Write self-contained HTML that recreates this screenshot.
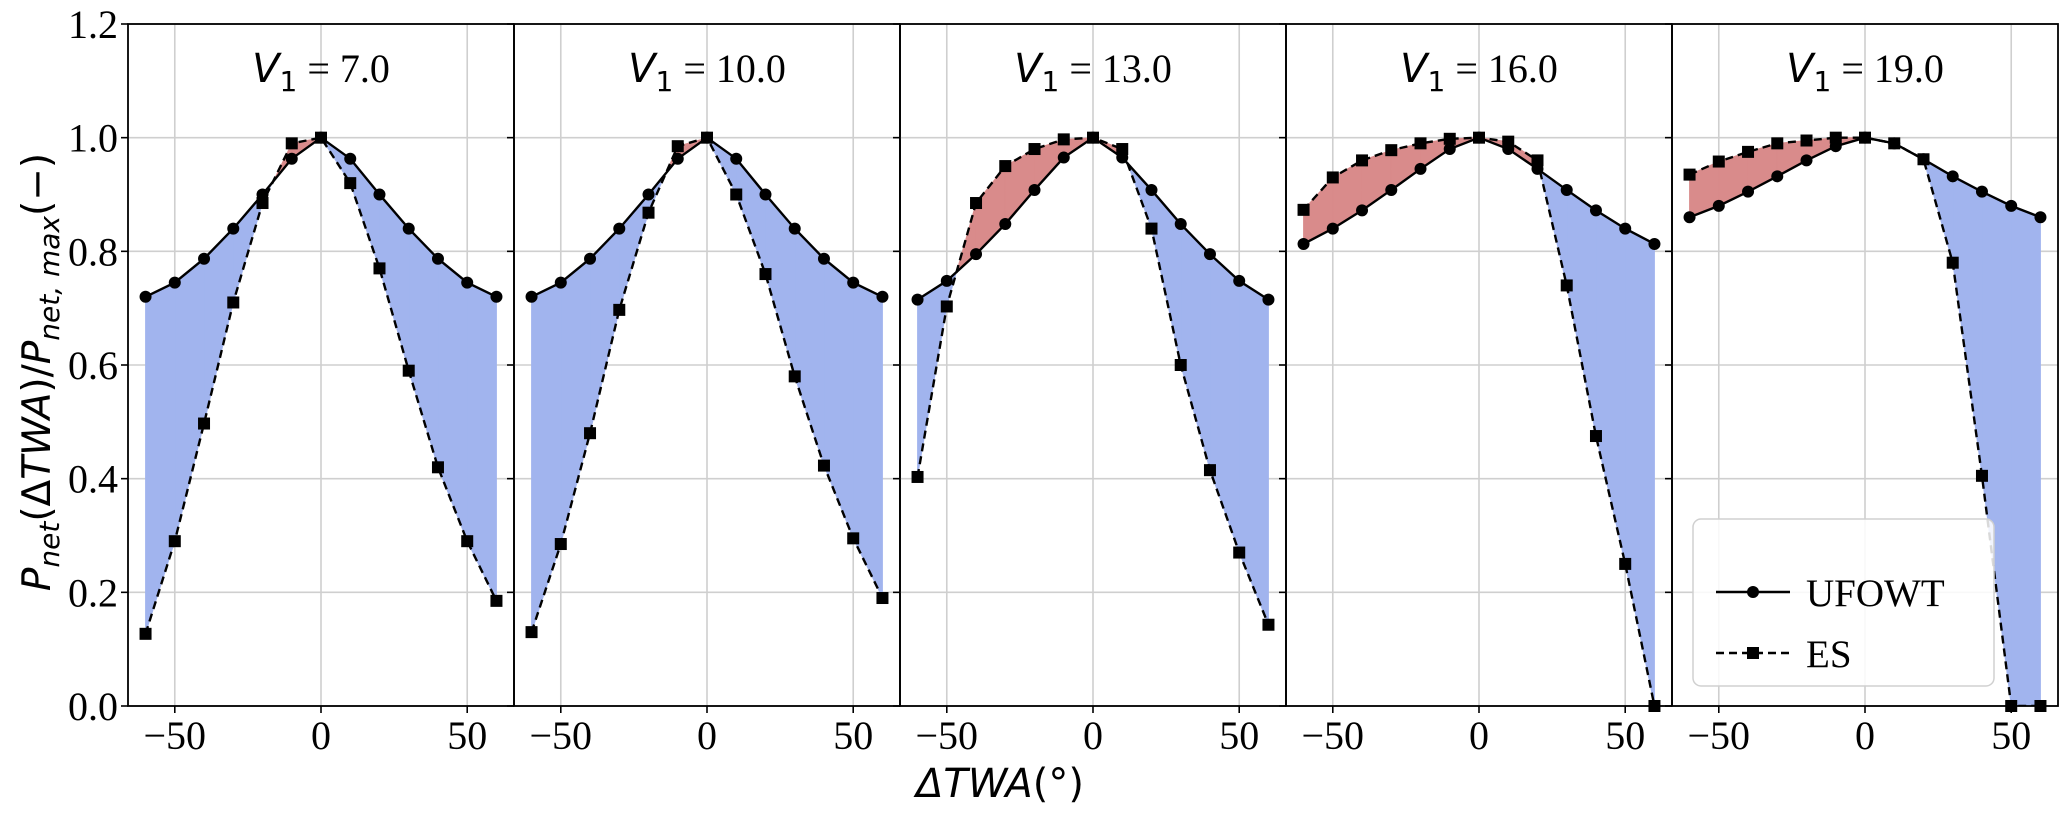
<!DOCTYPE html>
<html><head><meta charset="utf-8"><style>
html,body{margin:0;padding:0;background:#fff;}
svg text{font-family:"Liberation Serif",serif;}
</style></head><body>
<svg id="chart" xmlns="http://www.w3.org/2000/svg" width="2067" height="808" viewBox="0 0 2067 808">
<g id="g"></g>
</svg>
<script>
const xs=[-60,-50,-40,-30,-20,-10,0,10,20,30,40,50,60];
const titles=["7.0","10.0","13.0","16.0","19.0"];
const ufowt1=[0.72,0.745,0.787,0.84,0.9,0.963,1.0,0.963,0.9,0.84,0.787,0.745,0.72];
const ufowt2=[0.72,0.745,0.787,0.84,0.9,0.963,1.0,0.963,0.9,0.84,0.787,0.745,0.72];
const ufowt3=[0.715,0.748,0.795,0.848,0.908,0.965,1.0,0.965,0.908,0.848,0.795,0.748,0.715];
const ufowt4=[0.813,0.84,0.872,0.908,0.945,0.98,1.0,0.98,0.945,0.908,0.872,0.84,0.813];
const ufowt5=[0.86,0.88,0.905,0.932,0.96,0.985,1.0,0.99,0.962,0.932,0.905,0.88,0.86];
const es1=[0.127,0.29,0.497,0.71,0.885,0.99,1.0,0.92,0.77,0.59,0.42,0.29,0.185];
const es2=[0.13,0.285,0.48,0.697,0.868,0.985,1.0,0.9,0.76,0.58,0.423,0.295,0.19];
const es3=[0.403,0.703,0.885,0.95,0.98,0.997,1.0,0.98,0.84,0.6,0.415,0.27,0.143];
const es4=[0.873,0.93,0.96,0.978,0.99,0.998,1.0,0.993,0.96,0.74,0.475,0.25,0.0];
const es5=[0.935,0.958,0.975,0.99,0.995,1.0,1.0,0.99,0.962,0.78,0.405,0.0,0.0];
const yTicks=["0.0","0.2","0.4","0.6","0.8","1.0","1.2"];
const xTicks=["−50","0","50"];
const xTickVals=[-50,0,50];

const U=[ufowt1,ufowt2,ufowt3,ufowt4,ufowt5], E=[es1,es2,es3,es4,es5];
const NS="http://www.w3.org/2000/svg", G=document.getElementById('g');
const PL=128, PW=386, TOP=24, BOT=706;
const XMIN=-66, XMAX=66, YMIN=0, YMAX=1.2;
function el(t,a,p){const e=document.createElementNS(NS,t);for(const k in a)e.setAttribute(k,a[k]);(p||G).appendChild(e);return e;}
function sx(p,v){return PL+p*PW+(v-XMIN)/(XMAX-XMIN)*PW;}
function sy(v){return BOT-(v-YMIN)/(YMAX-YMIN)*(BOT-TOP);}

for(let p=0;p<5;p++){
  const pg=el('g',{});
  
  
  const L=PL+p*PW;
  const cp=el('clipPath',{id:'c'+p},pg); el('rect',{x:L,y:TOP,width:PW,height:BOT-TOP},cp);
  for(let i=0;i<yTicks.length;i++){const y=sy(parseFloat(yTicks[i]));
    const gl=el('line',{x1:L,x2:L+PW,y1:y,y2:y,stroke:'#cfcfcf','stroke-width':1.6},pg);
    
    el('line',{x1:L-7,x2:L,y1:y,y2:y,stroke:'#000','stroke-width':1.6},pg);
  }
  for(let i=0;i<xTickVals.length;i++){const x=sx(p,xTickVals[i]);
    const gl=el('line',{x1:x,x2:x,y1:TOP,y2:BOT,stroke:'#cfcfcf','stroke-width':1.6},pg);
    
    el('line',{x1:x,x2:x,y1:BOT,y2:BOT+7,stroke:'#000','stroke-width':1.6},pg);
    const t=el('text',{x:x,y:749,'font-size':40,'text-anchor':'middle'},pg);t.textContent=xTicks[i];
    
  }
  const fg=el('g',{'clip-path':'url(#c'+p+')'},pg);
  const u=U[p], e=E[p];
  for(let i=0;i<xs.length-1;i++){
    const d0=e[i]-u[i], d1=e[i+1]-u[i+1];
    const segs=[];
    if(d0*d1<0){const t=d0/(d0-d1);const xc=xs[i]+t*(xs[i+1]-xs[i]);const yc=u[i]+t*(u[i+1]-u[i]);
      segs.push([[xs[i],u[i]],[xc,yc],[xs[i],e[i]],d0]);
      segs.push([[xc,yc],[xs[i+1],u[i+1]],[xs[i+1],e[i+1]],d1]);
    } else segs.push([[xs[i],u[i]],[xs[i+1],u[i+1]],[xs[i+1],e[i+1]],[xs[i],e[i]],d0+d1]);
    for(const s of segs){const d=s[s.length-1];if(Math.abs(d)<1e-9)continue;
      const pts=s.slice(0,-1).map(q=>sx(p,q[0]).toFixed(1)+','+sy(q[1]).toFixed(1)).join(' ');
      const f=el('polygon',{points:pts,fill:d>0?'#d98b8b':'#a1b4ee',stroke:d>0?'#d98b8b':'#a1b4ee','stroke-width':0.8},fg);
      
    }
  }
  const lg=el('g',{'clip-path':'url(#c'+p+')'},pg);
  const up=xs.map((x,i)=>sx(p,x)+','+sy(u[i])).join(' ');
  const ep=xs.map((x,i)=>sx(p,x)+','+sy(e[i])).join(' ');
  const l1=el('polyline',{points:up,fill:'none',stroke:'#000','stroke-width':2.4},lg);
  
  const l2=el('polyline',{points:ep,fill:'none',stroke:'#000','stroke-width':2.4,'stroke-dasharray':'8,5'},lg);
  
  xs.forEach((x,i)=>{
    const c=el('circle',{cx:sx(p,x),cy:sy(u[i]),r:6,fill:'#000'},pg);
    
    const r=el('rect',{x:sx(p,x)-6,y:sy(e[i])-6,width:12,height:12,fill:'#000'},pg);
    
  });
  el('rect',{x:L,y:TOP,width:PW,height:BOT-TOP,fill:'none',stroke:'#000','stroke-width':1.8},pg);
  const tt=el('text',{x:L+PW/2,y:82,'font-size':40,'text-anchor':'middle'},pg);
  
  tt.innerHTML='<tspan font-family="DejaVu Sans, sans-serif" font-style="italic">V</tspan><tspan font-family="DejaVu Sans, sans-serif" font-size="28" dy="9">1</tspan><tspan dy="-9"> = '+titles[p]+'</tspan>';
}
for(let i=0;i<yTicks.length;i++){
  const t=el('text',{x:118,y:sy(parseFloat(yTicks[i]))+14,'font-size':40,'text-anchor':'end'});
  t.textContent=yTicks[i];
}
const xt=el('text',{x:1000,y:797,'font-size':40,'text-anchor':'middle','font-family':'DejaVu Sans, sans-serif'});

xt.innerHTML='<tspan font-style="italic" font-family="DejaVu Sans, sans-serif">ΔTWA</tspan><tspan font-family="DejaVu Sans, sans-serif">(°)</tspan>';
const yt=el('text',{x:0,y:0,'font-size':39,'text-anchor':'middle','font-family':'DejaVu Sans, sans-serif',transform:'translate(50,372) rotate(-90)'});

yt.innerHTML='<tspan font-style="italic" font-family="DejaVu Sans, sans-serif">P</tspan><tspan font-style="italic" font-size="28" dy="9" font-family="DejaVu Sans, sans-serif">net</tspan><tspan dy="-9" font-family="DejaVu Sans, sans-serif">(Δ</tspan><tspan font-style="italic" font-family="DejaVu Sans, sans-serif">TWA</tspan><tspan font-family="DejaVu Sans, sans-serif">)/</tspan><tspan font-style="italic" font-family="DejaVu Sans, sans-serif">P</tspan><tspan font-style="italic" font-size="28" dy="9" font-family="DejaVu Sans, sans-serif">net, max</tspan><tspan dy="-9" font-family="DejaVu Sans, sans-serif">(−)</tspan>';
const lg=el('g',{});

el('rect',{x:1693,y:519,width:301,height:167,rx:8,fill:'#fff','fill-opacity':0.85,stroke:'#d0d0d0','stroke-width':1.5},lg);
const e1=el('g',{},lg);
el('line',{x1:1716,x2:1790,y1:592,y2:592,stroke:'#000','stroke-width':2.4},e1);
el('circle',{cx:1753,cy:592,r:6,fill:'#000'},e1);
let t1=el('text',{x:1806,y:606,'font-size':39},e1);t1.textContent='UFOWT';
const e2=el('g',{},lg);
el('line',{x1:1716,x2:1790,y1:653,y2:653,stroke:'#000','stroke-width':2.4,'stroke-dasharray':'8,5'},e2);
el('rect',{x:1747,y:647,width:12,height:12,fill:'#000'},e2);
let t2=el('text',{x:1806,y:667,'font-size':39},e2);t2.textContent='ES';
</script>
</body></html>
